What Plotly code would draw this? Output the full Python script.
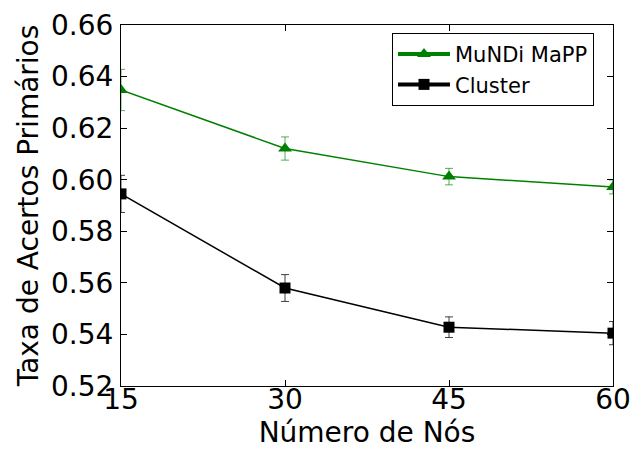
import plotly.graph_objects as go

# Number of nodes in the network
nodes = [15, 30, 45, 60]

# Primary hit rate per scheme (mean and error)
mundi_rate = [0.6348, 0.6121, 0.6012, 0.5972]
mundi_err = [0.0080, 0.0045, 0.0032, 0.0027]
cluster_rate = [0.5945, 0.5580, 0.5428, 0.5405]
cluster_err = [0.0072, 0.0052, 0.0040, 0.0045]

y_ticks = [0.52, 0.54, 0.56, 0.58, 0.60, 0.62, 0.64, 0.66]
x_ticks = [15, 30, 45, 60]

GREEN = "#008000"
FONT = "DejaVu Sans, Liberation Sans, sans-serif"

fig = go.Figure()

fig.add_trace(go.Scatter(
    x=nodes, y=mundi_rate, mode="lines+markers", showlegend=False,
    line=dict(color=GREEN, width=1.5),
    marker=dict(symbol="triangle-up", size=12, color=GREEN),
    error_y=dict(type="data", array=mundi_err, visible=True,
                 color="rgba(0,128,0,0.65)", thickness=1, width=4),
))
fig.add_trace(go.Scatter(
    x=nodes, y=cluster_rate, mode="lines+markers", showlegend=False,
    line=dict(color="black", width=1.5),
    marker=dict(symbol="square", size=11, color="black"),
    error_y=dict(type="data", array=cluster_err, visible=True,
                 color="rgba(0,0,0,0.75)", thickness=1, width=4),
))

# Legend entries with heavier line samples
fig.add_trace(go.Scatter(
    x=[None], y=[None], mode="lines+markers", name="MuNDi MaPP",
    line=dict(color=GREEN, width=4),
    marker=dict(symbol="triangle-up", size=12, color=GREEN),
))
fig.add_trace(go.Scatter(
    x=[None], y=[None], mode="lines+markers", name="Cluster",
    line=dict(color="black", width=4),
    marker=dict(symbol="square", size=11, color="black"),
))

axis_common = dict(
    showgrid=False, zeroline=False, automargin=False,
    showline=True, linecolor="black", linewidth=1, mirror="allticks",
    ticks="inside", ticklen=6, tickwidth=1, tickcolor="black",
    tickfont=dict(family=FONT, size=28, color="black"),
)

fig.update_xaxes(
    range=[15, 60], tickvals=x_ticks, ticktext=[str(v) for v in x_ticks],
    ticklabelstandoff=-12,
    title=dict(text="Número de Nós", font=dict(family=FONT, size=28, color="black"),
               standoff=6),
    **axis_common,
)
fig.update_yaxes(
    range=[0.52, 0.66], tickvals=y_ticks, ticktext=[f"{v:.2f}" for v in y_ticks],
    ticklabelstandoff=1,
    title=dict(text="Taxa de Acertos Primários",
               font=dict(family=FONT, size=28, color="black"), standoff=4),
    **axis_common,
)

fig.update_layout(
    width=631, height=452,
    margin=dict(l=121, r=18, t=25, b=66),
    paper_bgcolor="white", plot_bgcolor="white",
    font=dict(family=FONT, color="black"),
    legend=dict(
        x=0.5508, y=0.978, xanchor="left", yanchor="top",
        bgcolor="white", bordercolor="black", borderwidth=1,
        font=dict(family=FONT, size=21, color="black"),
        itemwidth=52, tracegroupgap=0,
    ),
)

fig.write_html("out.html")
